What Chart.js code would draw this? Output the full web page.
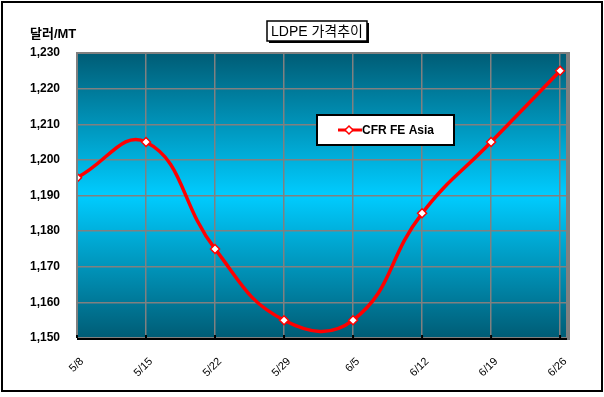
<!DOCTYPE html>
<html>
<head>
<meta charset="utf-8">
<script src="https://cdn.jsdelivr.net/npm/chart.js@4"></script>
<style>
  body { margin: 0; background: #fff; }
  canvas { display: block; }
</style>
</head>
<body>
<canvas id="myChart" width="604" height="397"></canvas>
<script>
// 데이터
var categories = ["5/8", "5/15", "5/22", "5/29", "6/5", "6/12", "6/19", "6/26"];
var cfrFeAsia = [1195, 1205, 1175, 1155, 1155, 1185, 1205, 1225];
var seriesName = "CFR FE Asia";
var chartTitle = "LDPE 가격추이";
var yTitle = "달러/MT";

var FONT = "'Liberation Sans', Arial, 'Noto Sans CJK KR', sans-serif";

// 배경, 테두리, 제목, 범례
var decor = {
  id: "decor",
  beforeDraw: function (chart) {
    var ctx = chart.ctx;
    var a = chart.chartArea;
    ctx.save();
    var g = ctx.createLinearGradient(0, a.top, 0, a.bottom);
    g.addColorStop(0, "#005c75");
    g.addColorStop(0.5, "#00ccff");
    g.addColorStop(1, "#005c75");
    ctx.fillStyle = g;
    ctx.fillRect(a.left, a.top, a.right - a.left, a.bottom - a.top);
    ctx.restore();
  },
  afterDraw: function (chart) {
    var ctx = chart.ctx;
    var a = chart.chartArea;
    var xs = chart.scales.x;
    ctx.save();

    // plot border (gray) + shadow on right
    ctx.strokeStyle = "#808080";
    ctx.lineWidth = 2;
    ctx.beginPath();
    ctx.moveTo(a.left, a.bottom);
    ctx.lineTo(a.left, a.top);
    ctx.lineTo(a.right, a.top);
    ctx.lineTo(a.right, a.bottom);
    ctx.stroke();
    ctx.fillStyle = "#808080";
    ctx.fillRect(a.right, a.top - 1, 3, a.bottom - a.top + 3);

    // x axis line + tick marks
    ctx.strokeStyle = "#000";
    ctx.lineWidth = 2;
    ctx.beginPath();
    ctx.moveTo(a.left, a.bottom + 1);
    ctx.lineTo(a.right, a.bottom + 1);
    ctx.stroke();
    for (var i = 0; i < categories.length; i++) {
      var px = xs.getPixelForValue(i);
      ctx.beginPath();
      ctx.moveTo(px, a.bottom - 3);
      ctx.lineTo(px, a.bottom);
      ctx.stroke();
    }

    // y axis title
    ctx.fillStyle = "#000";
    ctx.font = "bold 13px " + FONT;
    ctx.textAlign = "left";
    ctx.textBaseline = "alphabetic";
    ctx.fillText(yTitle, 30, 38);

    // title box
    ctx.font = "14px " + FONT;
    var tw = ctx.measureText(chartTitle).width;
    var bx = 267, by = 21, bw = tw + 8, bh = 20;
    ctx.fillStyle = "#000";
    ctx.fillRect(bx + 2, by + 2, bw, bh);
    ctx.fillStyle = "#fff";
    ctx.fillRect(bx, by, bw, bh);
    ctx.strokeStyle = "#000";
    ctx.lineWidth = 1.5;
    ctx.strokeRect(bx, by, bw, bh);
    ctx.fillStyle = "#000";
    ctx.textBaseline = "middle";
    ctx.fillText(chartTitle, bx + 4, by + bh / 2 + 1);

    // legend box
    var lx = 317, ly = 115, lw = 137, lh = 30;
    ctx.fillStyle = "#fff";
    ctx.fillRect(lx, ly, lw, lh);
    ctx.strokeStyle = "#000";
    ctx.lineWidth = 2;
    ctx.strokeRect(lx, ly, lw, lh);
    var cy = ly + lh / 2;
    ctx.strokeStyle = "#ff0000";
    ctx.lineWidth = 3;
    ctx.beginPath();
    ctx.moveTo(338, cy);
    ctx.lineTo(362, cy);
    ctx.stroke();
    ctx.fillStyle = "#fff";
    ctx.strokeStyle = "#ff0000";
    ctx.lineWidth = 1.5;
    ctx.beginPath();
    ctx.moveTo(349, cy - 4);
    ctx.lineTo(353, cy);
    ctx.lineTo(349, cy + 4);
    ctx.lineTo(345, cy);
    ctx.closePath();
    ctx.fill();
    ctx.stroke();
    ctx.fillStyle = "#000";
    ctx.font = "bold 12px " + FONT;
    ctx.fillText(chart.data.datasets[0].label, 362, cy + 1);

    // outer frame
    ctx.strokeStyle = "#000";
    ctx.lineWidth = 2;
    ctx.strokeRect(2, 2, 600, 389);
    ctx.restore();
  }
};

var ctx = document.getElementById("myChart").getContext("2d");
var chart = new Chart(ctx, {
  type: "line",
  data: {
    datasets: [
      {
        label: seriesName,
        data: cfrFeAsia.map(function (v, i) { return { x: i, y: v }; }),
        borderColor: "#ff0000",
        borderWidth: 3.5,
        tension: 0.45,
        pointStyle: "rectRot",
        pointRadius: 4.5,
        pointBackgroundColor: "#fff",
        pointBorderColor: "#ff0000",
        pointBorderWidth: 1.5,
        fill: false,
      },
    ],
  },
  options: {
    responsive: false,
    animation: false,
    layout: { padding: { left: 0, right: 37, top: 53, bottom: 0 } },
    plugins: {
      legend: { display: false },
      tooltip: { enabled: false },
    },
    scales: {
      x: {
        type: "linear",
        min: 0,
        max: 7.1,
        afterFit: function (s) { s.height = 59; },
        afterBuildTicks: function (s) {
          s.ticks = categories.map(function (c, i) { return { value: i }; });
        },
        grid: { color: "#808080", lineWidth: 1.5, drawTicks: false },
        border: { display: false },
        ticks: {
          padding: 17,
          labelOffset: 5,
          minRotation: 45,
          maxRotation: 45,
          color: "#000",
          font: { family: FONT, size: 11 },
          callback: function (v) { return categories[v]; },
        },
      },
      y: {
        min: 1150,
        max: 1230,
        afterFit: function (s) { s.width = 77; },
        grid: { color: "#808080", lineWidth: 1.5, drawTicks: false },
        border: { display: false },
        ticks: {
          stepSize: 10,
          padding: 17,
          color: "#000",
          font: { family: FONT, size: 12, weight: "bold" },
          callback: function (v) { return v.toLocaleString("en-US"); },
        },
      },
    },
  },
  plugins: [decor],
});
</script>
</body>
</html>
